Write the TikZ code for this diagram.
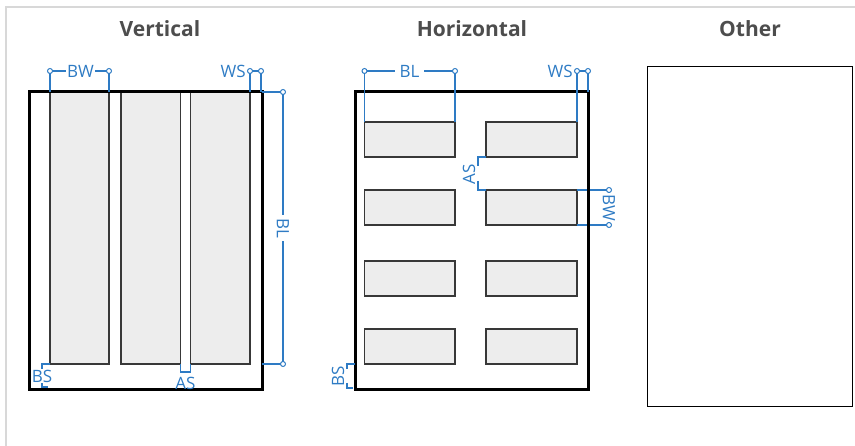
\documentclass[tikz,border=0pt]{standalone}
\usepackage{fontspec}
\setmainfont{Open Sans}
\definecolor{dimblue}{HTML}{2E7BC4}
\definecolor{titlegray}{HTML}{4D4D4D}
\definecolor{barfill}{HTML}{EDEDED}
\definecolor{barline}{HTML}{383838}
\definecolor{framegray}{HTML}{D8D8D8}
\tikzset{
  outer/.style={draw=black, line width=3pt},
  bar/.style={draw=barline, fill=barfill, line width=1.4pt},
  dim/.style={draw=dimblue, line width=1.2pt},
  dimdot/.style={circle, draw=dimblue, fill=white, line width=1pt, inner sep=0pt, minimum size=5pt},
  dimlbl/.style={text=dimblue, font=\fontsize{17}{17}\selectfont, inner sep=1.5pt},
  title/.style={font=\fontsize{21}{21}\selectfont\bfseries, text=titlegray, anchor=base},
}
\begin{document}
\begin{tikzpicture}[x=1pt,y=-1pt]
\useasboundingbox (0,0) rectangle (855,446);
% frame
\draw[framegray, line width=1.5pt] (6,446) -- (6,7) -- (855,7);
% titles
\node[title] (tv) at (160,37) {Vertical};
\node[title] (th) at (472,37) {Horizontal};
\node[title] (to) at (750,37) {Other};

% ---------- Vertical panel ----------
\draw[bar] (50,92) rectangle (109,364);
\draw[bar] (121,92) rectangle (180.5,364);
\draw[bar] (190.5,92) rectangle (250,364);
\draw[outer] (29,92) rectangle (262,389.5);
% BW
\draw[dim] (50,92) -- (50,71) -- (109,71) -- (109,92);
\node[dimdot] (vbw1) at (50,71) {};
\node[dimdot] (vbw2) at (109,71) {};
\node[dimlbl, fill=white, inner sep=1pt] (vbw) at (80.5,71) {BW};
% WS
\draw[dim] (250,92) -- (250,71) -- (261,71) -- (261,92);
\node[dimdot] (vws1) at (250,71) {};
\node[dimdot] (vws2) at (261,71) {};
\node[dimlbl, anchor=east] (vws) at (247.5,71) {WS};
% BL
\draw[dim] (262,92) -- (283,92) -- (283,364) -- (262,364);
\node[dimdot] (vbl1) at (283,92) {};
\node[dimdot] (vbl2) at (283,364) {};
\node[dimlbl, fill=white, rotate=-90, inner sep=3pt] (vbl) at (283,228) {BL};
% BS
\draw[dim] (50,364) -- (42,364) -- (42,387) -- (48,387);
\node[dimlbl, fill=white, inner sep=0.5pt] (vbs) at (42,376) {BS};
% AS
\draw[dim] (180.5,364) -- (180.5,372) -- (190.5,372) -- (190.5,364);
\node[dimlbl, inner sep=0pt] (vas) at (185.5,383) {AS};

% ---------- Horizontal panel ----------
\foreach \yy in {122,190,261,329}{
  \draw[bar] (364.5,\yy) rectangle (455,\yy+35);
  \draw[bar] (486,\yy) rectangle (577,\yy+35);
}
% BW (behind outer)
\draw[dim] (577,190) -- (609,190) -- (609,225) -- (577,225);
\draw[outer] (355,92) rectangle (588,389.5);
\node[dimdot] (hbw1) at (609,190) {};
\node[dimdot] (hbw2) at (609,225) {};
\node[dimlbl, fill=white, rotate=-90, inner sep=1pt] (hbw) at (609,207.5) {BW};
% BL
\draw[dim] (364.5,122) -- (364.5,71) -- (455,71) -- (455,122);
\node[dimdot] (hbl1) at (364.5,71) {};
\node[dimdot] (hbl2) at (455,71) {};
\node[dimlbl, fill=white, inner sep=5pt] (hbl) at (409.5,71) {BL};
% WS
\draw[dim] (577,122) -- (577,71) -- (588,71) -- (588,92);
\node[dimdot] (hws1) at (577,71) {};
\node[dimdot] (hws2) at (588,71) {};
\node[dimlbl, anchor=east] (hws) at (574.5,71) {WS};
% AS
\draw[dim] (486,157) -- (478,157) -- (478,166);
\draw[dim] (478,181) -- (478,190) -- (486,190);
\node[dimlbl, rotate=90, inner sep=0pt] (has) at (469,174) {AS};
% BS
\draw[dim] (355,364) -- (347,364) -- (347,369);
\draw[dim] (347,383) -- (347,388) -- (353,388);
\node[dimlbl, rotate=90, inner sep=0pt] (hbs) at (338,376) {BS};

% ---------- Other panel ----------
\draw[black, line width=1pt] (647,67) rectangle (852,407);
\end{tikzpicture}
\end{document}
